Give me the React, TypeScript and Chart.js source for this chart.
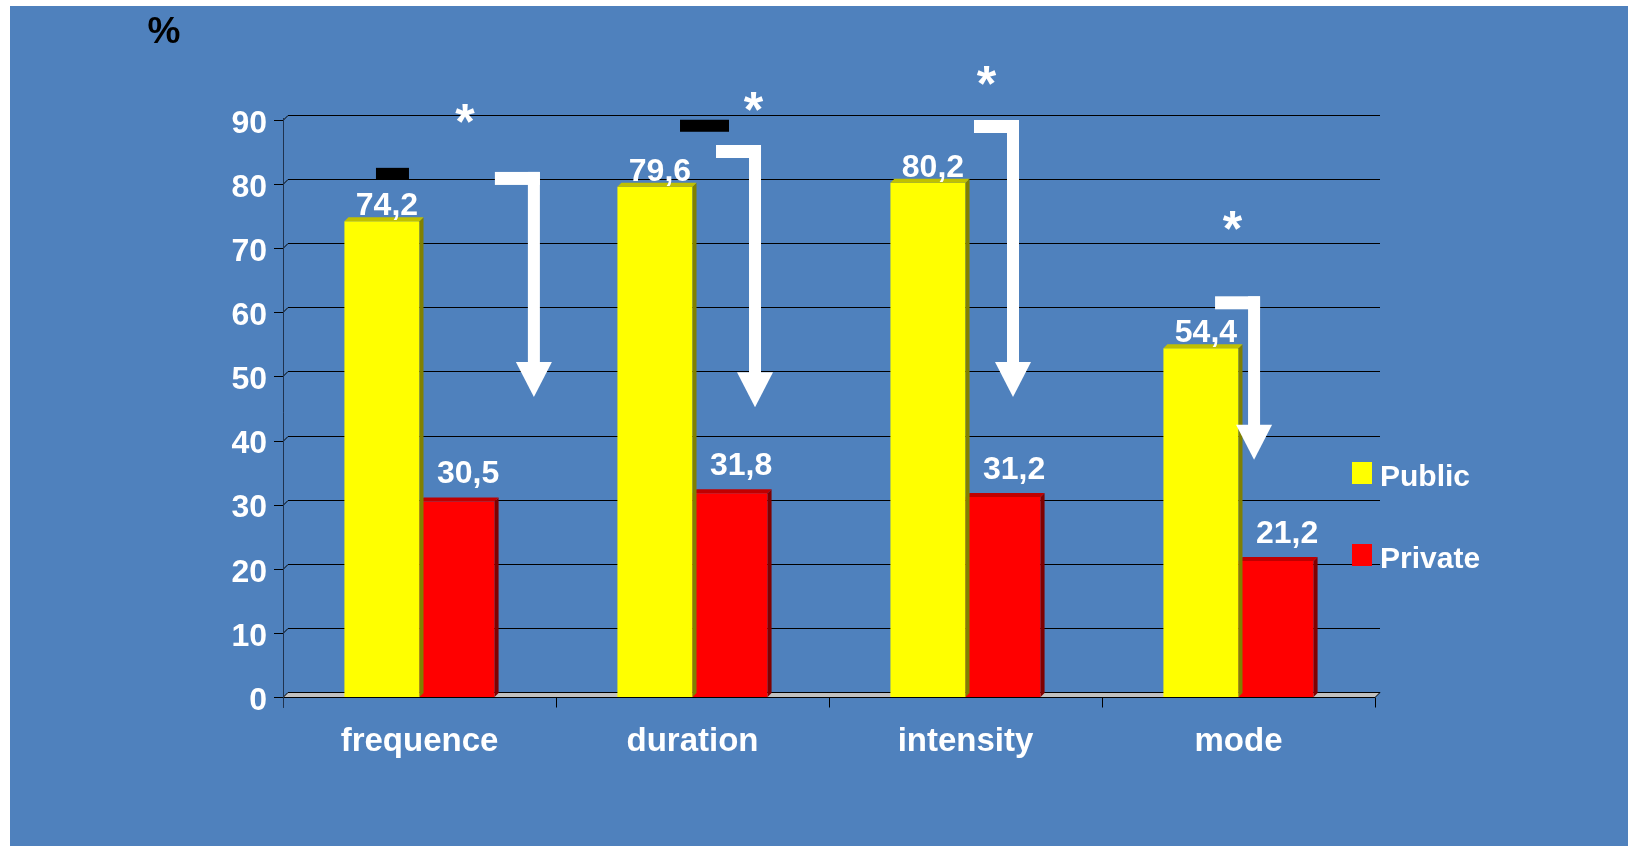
import React, { useEffect, useRef } from 'react';
import { Chart, registerables } from 'chart.js';

Chart.register(...registerables);

// ---- data ----
const categories = ['frequence', 'duration', 'intensity', 'mode'];
const seriesNames = ['Public', 'Private'];
const publicValues = [74.2, 79.6, 80.2, 54.4];
const privateValues = [30.5, 31.8, 31.2, 21.2];
const yMin = 0;
const yMax = 90;
const yStep = 10;
const yAxisTitle = '%';

// ---- significance annotations (category position, value units) ----
const arrowCat = [0.419, 1.229, 2.174, 3.057];
const arrowFrom = [81.9, 86.1, 90.0, 62.5];
const arrowTo = [46.8, 45.2, 46.8, 37.0];
const starCat = [0.167, 1.223, 2.077, 2.978];
const starVal = [91.4, 93.3, 97.3, 74.7];
const dashCat = [-0.099, 1.044];
const dashVal = [81.6, 89.1];
const dashWidth = [33, 49];

const FONT = "'Liberation Sans', Arial, sans-serif";
const BLUE = '#4F81BD';
const COLORS = ['#FFFF00', '#FF0000'];
const SIDE = ['#808000', '#800000'];
const TOP = ['#C0C000', '#C00000'];
const DEPTH = 4;
const WALL = 5;

const fmt = (v: number) => v.toFixed(1).replace('.', ',');

const scenePlugin = {
  id: 'scene3d',
  beforeDraw(chart: any) {
    const { ctx, width, height } = chart;
    ctx.save();
    ctx.fillStyle = '#ffffff';
    ctx.fillRect(0, 0, width, height);
    ctx.fillStyle = BLUE;
    ctx.fillRect(10, 6, width - 10, height - 6);
    ctx.restore();
  },
  beforeDatasetsDraw(chart: any) {
    const { ctx, chartArea: a } = chart;
    const y = chart.scales.y;
    const x = chart.scales.x;
    ctx.save();
    ctx.lineWidth = 1;
    // gridlines on back wall
    ctx.strokeStyle = '#000000';
    for (let v = yMin + yStep; v <= yMax; v += yStep) {
      const py = Math.round(y.getPixelForValue(v)) + 0.5;
      ctx.beginPath();
      ctx.moveTo(a.left - 9, py);
      ctx.lineTo(a.left, py);
      ctx.lineTo(a.left + WALL, py - WALL);
      ctx.lineTo(a.right + WALL, py - WALL);
      ctx.stroke();
    }
    // floor
    const by = Math.round(y.getPixelForValue(yMin)) + 0.5;
    ctx.fillStyle = '#C0C0C0';
    ctx.beginPath();
    ctx.moveTo(a.left, by);
    ctx.lineTo(a.left + WALL, by - WALL);
    ctx.lineTo(a.right + WALL, by - WALL);
    ctx.lineTo(a.right, by);
    ctx.closePath();
    ctx.fill();
    ctx.stroke();
    ctx.beginPath();
    ctx.moveTo(a.left - 9, by);
    ctx.lineTo(a.right, by);
    ctx.stroke();
    // category boundary ticks
    for (let i = 0; i <= categories.length; i++) {
      const px = Math.round(x.getPixelForValue(i - 0.5)) + 0.5;
      ctx.beginPath();
      ctx.moveTo(px, by);
      ctx.lineTo(px, by + 10);
      ctx.stroke();
    }
    // y axis line
    ctx.strokeStyle = '#1F3350';
    const ax = Math.round(a.left) + 0.5;
    ctx.beginPath();
    ctx.moveTo(ax, Math.round(y.getPixelForValue(yMax)) - 2);
    ctx.lineTo(ax, by + 10);
    ctx.stroke();
    ctx.restore();
  },
  afterDatasetDraw(chart: any, args: any) {
    const { ctx } = chart;
    const di = args.index;
    const meta = chart.getDatasetMeta(di);
    ctx.save();
    meta.data.forEach((el: any) => {
      const w = el.width;
      const l = el.x - w / 2;
      const r = el.x + w / 2;
      const t = el.y;
      const b = el.base;
      ctx.fillStyle = SIDE[di];
      ctx.beginPath();
      ctx.moveTo(r, t);
      ctx.lineTo(r + DEPTH, t - DEPTH);
      ctx.lineTo(r + DEPTH, b - DEPTH);
      ctx.lineTo(r, b);
      ctx.closePath();
      ctx.fill();
      ctx.fillStyle = TOP[di];
      ctx.beginPath();
      ctx.moveTo(l, t);
      ctx.lineTo(l + DEPTH, t - DEPTH);
      ctx.lineTo(r + DEPTH, t - DEPTH);
      ctx.lineTo(r, t);
      ctx.closePath();
      ctx.fill();
    });
    ctx.restore();
  },
  afterDraw(chart: any) {
    const { ctx } = chart;
    const x = chart.scales.x;
    const y = chart.scales.y;
    ctx.save();
    // value labels
    const labelDx = [5, 11];
    const labelGap = [6, 18];
    ctx.font = `bold 32px ${FONT}`;
    ctx.fillStyle = '#ffffff';
    ctx.textAlign = 'center';
    ctx.textBaseline = 'alphabetic';
    [publicValues, privateValues].forEach((vals, di) => {
      const meta = chart.getDatasetMeta(di);
      meta.data.forEach((el: any, i: number) => {
        ctx.fillText(fmt(vals[i]), el.x + labelDx[di], el.y - labelGap[di]);
      });
    });
    // black dashes
    ctx.fillStyle = '#000000';
    dashCat.forEach((c, i) => {
      const px = x.getPixelForValue(c);
      const py = y.getPixelForValue(dashVal[i]);
      ctx.fillRect(px - dashWidth[i] / 2, py - 6, dashWidth[i], 12);
    });
    // arrows
    ctx.fillStyle = '#ffffff';
    arrowCat.forEach((c, i) => {
      const cx = x.getPixelForValue(c);
      const top = y.getPixelForValue(arrowFrom[i]);
      const tip = y.getPixelForValue(arrowTo[i]);
      ctx.fillRect(cx - 39, top, 45, 13);
      ctx.fillRect(cx - 6, top, 12, tip - 34 - top);
      ctx.beginPath();
      ctx.moveTo(cx - 18, tip - 35);
      ctx.lineTo(cx + 18, tip - 35);
      ctx.lineTo(cx, tip);
      ctx.closePath();
      ctx.fill();
    });
    // asterisks
    ctx.font = `bold 50px ${FONT}`;
    starCat.forEach((c, i) => {
      const px = x.getPixelForValue(c);
      const py = y.getPixelForValue(starVal[i]);
      ctx.fillText('*', px, py + 28);
    });
    // legend
    ctx.font = `bold 30px ${FONT}`;
    ctx.textAlign = 'left';
    seriesNames.forEach((name, i) => {
      const ly = 462 + i * 82;
      ctx.fillStyle = COLORS[i];
      ctx.fillRect(1352, ly, 20, 22);
      ctx.fillStyle = '#ffffff';
      ctx.fillText(name, 1380, ly + 24);
    });
    // axis title
    ctx.font = `bold 37px ${FONT}`;
    ctx.fillStyle = '#000000';
    ctx.textAlign = 'center';
    ctx.fillText(yAxisTitle, 164, 43);
    ctx.restore();
  },
};

export default function App() {
  const ref = useRef<HTMLCanvasElement>(null);
  useEffect(() => {
    if (!ref.current) return;
    const chart = new Chart(ref.current, {
      type: 'bar',
      data: {
        labels: categories,
        datasets: [
          { label: seriesNames[0], data: publicValues, backgroundColor: COLORS[0], borderWidth: 0 },
          { label: seriesNames[1], data: privateValues, backgroundColor: COLORS[1], borderWidth: 0 },
        ],
      },
      options: {
        responsive: false,
        animation: false,
        events: [],
        datasets: { bar: { categoryPercentage: 0.55, barPercentage: 1.0 } },
        layout: { padding: { top: 120, right: 253, bottom: 0, left: 0 } },
        plugins: { legend: { display: false }, tooltip: { enabled: false }, title: { display: false } },
        scales: {
          x: {
            grid: { display: false, drawTicks: false },
            border: { display: false },
            ticks: { color: '#ffffff', padding: 25, font: { family: FONT, size: 33, weight: 'bold' }, maxRotation: 0 },
            afterFit: (s: any) => { s.height = 149; },
          },
          y: {
            min: yMin,
            max: yMax,
            grid: { display: false, drawTicks: false },
            border: { display: false },
            ticks: { stepSize: yStep, color: '#ffffff', padding: 16, labelOffset: 4, font: { family: FONT, size: 32, weight: 'bold' } },
            afterFit: (s: any) => { s.width = 283; },
          },
        },
      },
      plugins: [scenePlugin],
    } as any);
    return () => chart.destroy();
  }, []);
  return (
    <div style={{ position: 'absolute', left: 0, top: 0, width: 1628, height: 846 }}>
      <canvas ref={ref} width={1628} height={846} style={{ display: 'block' }} />
    </div>
  );
}
